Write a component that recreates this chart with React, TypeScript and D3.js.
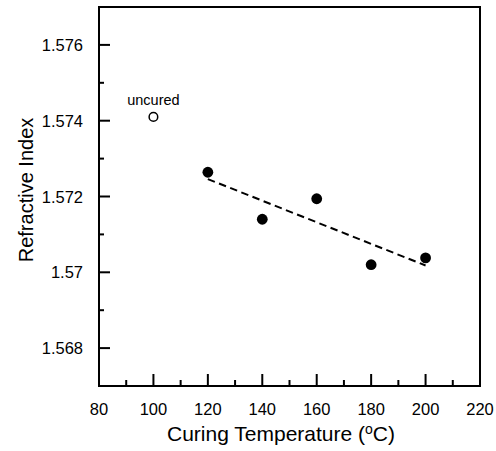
import React from "react";
import * as d3 from "d3";

const curedTemps = [120, 140, 160, 180, 200];
const curedIndex = [1.57264, 1.5714, 1.57194, 1.5702, 1.57038];
const uncuredTemp = [100];
const uncuredIndex = [1.5741];
const fitTemps = [120, 200];
const fitIndex = [1.57246, 1.57018];
const xMajorTicks = [80, 100, 120, 140, 160, 180, 200, 220];
const xMinorTicks = [90, 110, 130, 150, 170, 190, 210];
const yMajorTicks = [1.568, 1.57, 1.572, 1.574, 1.576];
const yMinorTicks = [1.569, 1.571, 1.573, 1.575];
const yTickLabels = ["1.568", "1.57", "1.572", "1.574", "1.576"];

const W = 496;
const H = 451;
const L = 99, R = 480, T = 7, B = 386;
const FONT = "'Liberation Sans', Arial, Helvetica, sans-serif";

export default function App() {
  const x = d3.scaleLinear().domain([80, 220]).range([L, R]);
  const y = d3.scaleLinear().domain([1.567, 1.577]).range([B, T]);
  const fitLine = d3
    .line<number>()
    .x((_, i) => x(fitTemps[i]))
    .y((d) => y(d));

  return (
    <svg
      width={W}
      height={H}
      style={{ position: "absolute", left: 0, top: 0, background: "#fff" }}
      fontFamily={FONT}
    >
      <rect x={0} y={0} width={W} height={H} fill="#fff" />
      {xMajorTicks.map((t) => (
        <line key={"xM" + t} x1={x(t)} x2={x(t)} y1={B} y2={B - 12} stroke="#000" strokeWidth={2} />
      ))}
      {xMinorTicks.map((t) => (
        <line key={"xm" + t} x1={x(t)} x2={x(t)} y1={B} y2={B - 6} stroke="#000" strokeWidth={2} />
      ))}
      {yMajorTicks.map((t) => (
        <line key={"yM" + t} x1={L} x2={L + 11} y1={y(t)} y2={y(t)} stroke="#000" strokeWidth={2} />
      ))}
      {yMinorTicks.map((t) => (
        <line key={"ym" + t} x1={L} x2={L + 5} y1={y(t)} y2={y(t)} stroke="#000" strokeWidth={2} />
      ))}
      <rect x={L} y={T} width={R - L} height={B - T} fill="none" stroke="#000" strokeWidth={2} />
      {xMajorTicks.map((t) => (
        <text key={"xl" + t} x={x(t)} y={415} fontSize={16.5} textAnchor="middle" fill="#000">
          {t}
        </text>
      ))}
      {yMajorTicks.map((t, i) => (
        <text
          key={"yl" + t}
          x={83}
          y={y(t)}
          fontSize={16.5}
          textAnchor="end"
          dominantBaseline="central"
          fill="#000"
        >
          {yTickLabels[i]}
        </text>
      ))}
      <text x={281} y={441} fontSize={21} textAnchor="middle" fill="#000">
        Curing Temperature (
        <tspan fontSize={14} dy={-7}>o</tspan>
        <tspan dy={7}>C)</tspan>
      </text>
      <text
        transform={`translate(33,190) rotate(-90)`}
        fontSize={20}
        textAnchor="middle"
        fill="#000"
      >
        Refractive Index
      </text>
      <path
        d={fitLine(fitIndex) || ""}
        fill="none"
        stroke="#000"
        strokeWidth={2}
        strokeDasharray="7.5,4.5"
      />
      {curedTemps.map((t, i) => (
        <circle key={"c" + t} cx={x(t)} cy={y(curedIndex[i])} r={5.4} fill="#000" />
      ))}
      {uncuredTemp.map((t, i) => (
        <g key={"u" + t}>
          <circle cx={x(t)} cy={y(uncuredIndex[i])} r={4.3} fill="#fff" stroke="#000" strokeWidth={1.5} />
          <text x={x(t)} y={y(uncuredIndex[i]) - 12} fontSize={14.5} textAnchor="middle" fill="#000">
            uncured
          </text>
        </g>
      ))}
    </svg>
  );
}
